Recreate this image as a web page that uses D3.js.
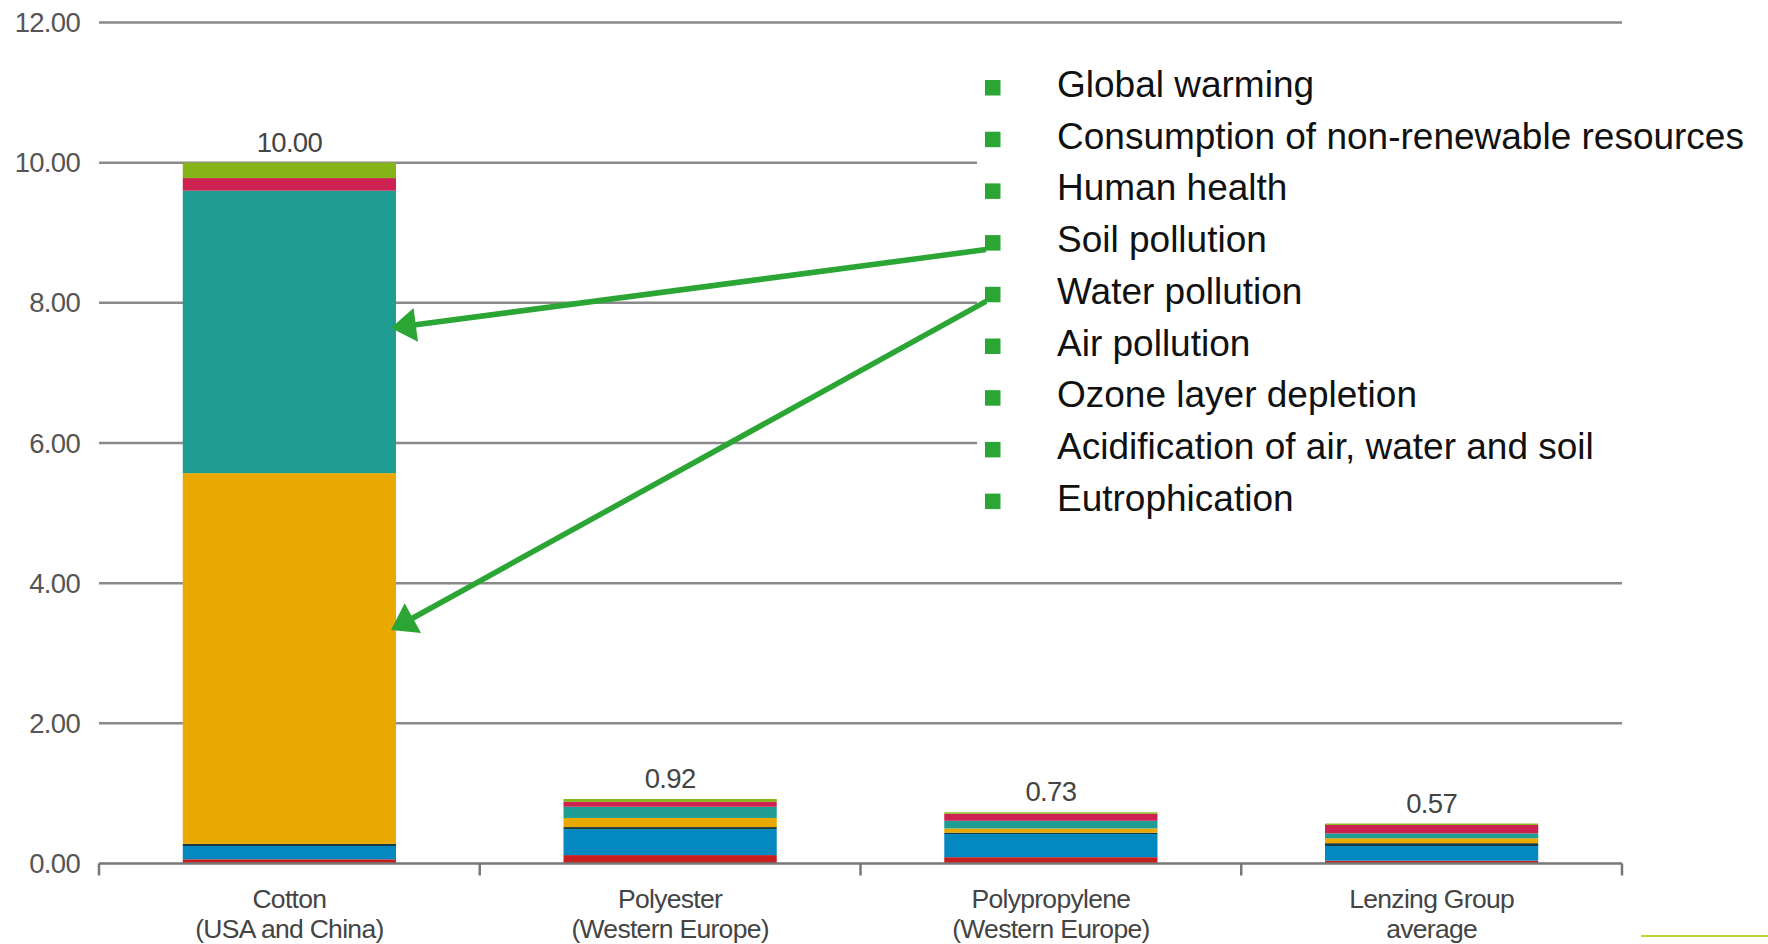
<!DOCTYPE html>
<html>
<head>
<meta charset="utf-8">
<script src="https://cdn.jsdelivr.net/npm/d3@7"></script>
<style>
  html, body { margin: 0; padding: 0; background: #fff; }
  svg { display: block; }
  text { font-family: "Liberation Sans", Arial, Helvetica, sans-serif; }
</style>
</head>
<body>
<svg id="chart" width="1768" height="944"></svg>
<script>
// Fibre types, two-line axis labels
const categories = ["Cotton", "Polyester", "Polypropylene", "Lenzing Group"];
const categorySubtitles = ["(USA and China)", "(Western Europe)", "(Western Europe)", "average"];

// Stacked impact components, bottom to top
const seriesKeys = ["Eutrophication", "Acidification", "Air pollution", "Water pollution",
                    "Soil pollution", "Consumption of resources", "Global warming"];
const eutrophication   = [0.06, 0.12, 0.09, 0.04];
const acidification    = [0.19, 0.37, 0.33, 0.21];
const airPollution     = [0.03, 0.03, 0.02, 0.04];
const waterPollution   = [5.29, 0.13, 0.06, 0.07];
const soilPollution    = [4.03, 0.16, 0.11, 0.07];
const resourceUse      = [0.18, 0.07, 0.10, 0.12];
const globalWarming    = [0.22, 0.04, 0.02, 0.02];
const seriesColors = ["#c61d1f", "#0389c0", "#163a40", "#e9a900", "#1f9d93", "#cd2151", "#84b417"];

// Y axis ticks
const yTicks = [0, 2, 4, 6, 8, 10, 12];

// Overlay list
const legendItems = ["Global warming", "Consumption of non-renewable resources", "Human health",
  "Soil pollution", "Water pollution", "Air pollution", "Ozone layer depletion",
  "Acidification of air, water and soil", "Eutrophication"];

// Pointer callouts: legend row -> value on the cotton bar
const callouts = [
  { row: 3, value: 7.64 },
  { row: 4, value: 3.33 }
];

const seriesValues = [eutrophication, acidification, airPollution, waterPollution,
                      soilPollution, resourceUse, globalWarming];
const table = categories.map((c, i) => {
  const row = { category: c };
  seriesKeys.forEach((k, j) => { row[k] = seriesValues[j][i]; });
  return row;
});

const svg = d3.select("#chart");

const x = d3.scaleBand()
  .domain(categories)
  .range([99, 1622])
  .paddingInner(0.44)
  .paddingOuter(0.22);
const y = d3.scaleLinear().domain([0, 12]).range([863.5, 22.5]);

const labelFont = 27.5, labelSpacing = -0.7;

// Horizontal gridlines
svg.append("g")
  .selectAll("line")
  .data(yTicks.filter(t => t > 0))
  .join("line")
  .attr("x1", 99).attr("x2", 1622)
  .attr("y1", d => y(d)).attr("y2", d => y(d))
  .attr("stroke", "#8a8a8a").attr("stroke-width", 2.5);

// Y tick labels
svg.append("g")
  .selectAll("text")
  .data(yTicks)
  .join("text")
  .attr("x", 80).attr("y", d => y(d))
  .attr("dy", "0.35em")
  .attr("text-anchor", "end")
  .attr("font-size", labelFont)
  .attr("letter-spacing", labelSpacing)
  .attr("fill", "#555")
  .text(d => d3.format(".2f")(d));

// Stacked bars
const stack = d3.stack().keys(seriesKeys)(table);
svg.append("g")
  .selectAll("g")
  .data(stack)
  .join("g")
  .attr("fill", (d, i) => seriesColors[i])
  .selectAll("rect")
  .data(d => d)
  .join("rect")
  .attr("x", d => x(d.data.category))
  .attr("width", x.bandwidth())
  .attr("y", d => y(d[1]))
  .attr("height", d => y(d[0]) - y(d[1]));

// Bottom axis with ticks at category boundaries
const boundaries = categories.map(c => x(c) - x.step() * x.paddingInner() / 2)
  .concat([x(categories[categories.length - 1]) + x.bandwidth() + x.step() * x.paddingInner() / 2]);
const axisG = svg.append("g");
axisG.append("line")
  .attr("x1", boundaries[0]).attr("x2", boundaries[boundaries.length - 1])
  .attr("y1", y(0)).attr("y2", y(0))
  .attr("stroke", "#777").attr("stroke-width", 2.5);
axisG.selectAll("line.tick")
  .data(boundaries)
  .join("line")
  .attr("class", "tick")
  .attr("x1", d => d).attr("x2", d => d)
  .attr("y1", y(0)).attr("y2", y(0) + 12)
  .attr("stroke", "#777").attr("stroke-width", 2.5);

// Category labels
const catLabels = svg.append("g")
  .selectAll("text")
  .data(categories)
  .join("text")
  .attr("text-anchor", "middle")
  .attr("font-size", 26.5)
  .attr("letter-spacing", labelSpacing)
  .attr("fill", "#444");
catLabels.append("tspan").attr("x", d => x(d) + x.bandwidth() / 2).attr("y", 908).text(d => d);
catLabels.append("tspan").attr("x", d => x(d) + x.bandwidth() / 2).attr("y", 937.5)
  .text((d, i) => categorySubtitles[i]);

// Totals above bars
svg.append("g")
  .selectAll("text")
  .data(table)
  .join("text")
  .attr("x", d => x(d.category) + x.bandwidth() / 2)
  .attr("y", d => y(d3.sum(seriesKeys, k => d[k])) - 11)
  .attr("text-anchor", "middle")
  .attr("font-size", labelFont)
  .attr("letter-spacing", labelSpacing)
  .attr("fill", "#444")
  .text(d => d3.format(".2f")(d3.sum(seriesKeys, k => d[k])));

// Overlay list on a white panel, with square bullets
const legendX = 985, legendTop = 80, legendStep = 51.7, bullet = 15.5;
const green = "#2ba534";
svg.append("rect")
  .attr("x", 977).attr("y", 52)
  .attr("width", 1768 - 977).attr("height", 470)
  .attr("fill", "#fff");
const legend = svg.append("g");
legend.selectAll("rect")
  .data(legendItems)
  .join("rect")
  .attr("x", legendX)
  .attr("y", (d, i) => legendTop + i * legendStep)
  .attr("width", bullet).attr("height", bullet)
  .attr("fill", green);
legend.selectAll("text")
  .data(legendItems)
  .join("text")
  .attr("x", 1057)
  .attr("y", (d, i) => legendTop + 17 + i * legendStep)
  .attr("font-size", 37)
  .attr("fill", "#111")
  .text(d => d);

// Callout arrows from list items to the cotton bar
const cottonRight = x(categories[0]) + x.bandwidth();
const headLen = 25, headHalf = 17;
const arrows = svg.append("g");
callouts.forEach(c => {
  const sx = legendX + 1, sy = legendTop + c.row * legendStep + bullet - 1;
  const tx = cottonRight - 5, ty = y(c.value);
  const dx = tx - sx, dy = ty - sy, len = Math.hypot(dx, dy);
  const ux = dx / len, uy = dy / len;
  const bx = tx - ux * headLen, by = ty - uy * headLen;
  arrows.append("line")
    .attr("x1", sx).attr("y1", sy).attr("x2", bx + ux * 2).attr("y2", by + uy * 2)
    .attr("stroke", green).attr("stroke-width", 5.5);
  arrows.append("path")
    .attr("d", d3.line()([[tx, ty], [bx - uy * headHalf, by + ux * headHalf], [bx + uy * headHalf, by - ux * headHalf]]) + "Z")
    .attr("fill", green);
});

// Thin accent rule at lower right
svg.append("line")
  .attr("x1", 1641).attr("x2", 1768).attr("y1", 936).attr("y2", 936)
  .attr("stroke", "#b9d535").attr("stroke-width", 2);
</script>
</body>
</html>
